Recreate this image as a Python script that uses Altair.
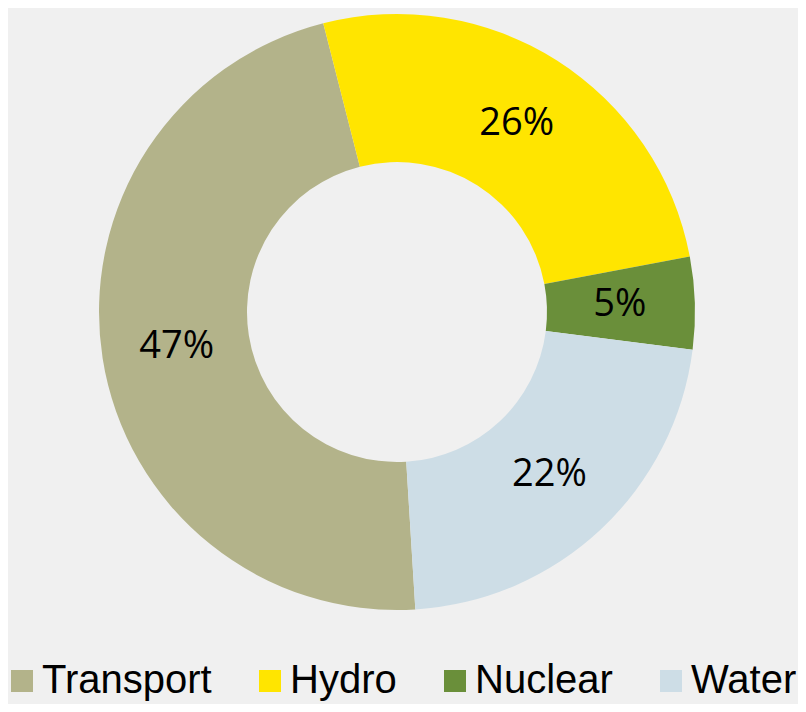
import altair as alt
import pandas as pd
import math

categories = ["Transport", "Hydro", "Nuclear", "Water"]
values = [47, 26, 5, 22]
labels = ["47%", "26%", "5%", "22%"]
colors = ["#b3b38a", "#ffe500", "#6a8f3a", "#cddde6"]

df = pd.DataFrame({"cat": categories, "val": values, "label": labels, "ord": list(range(len(categories)))})

start = 3.08
theta_scale = alt.Scale(range=[start, start + 2 * math.pi])

base = alt.Chart(df).encode(
    theta=alt.Theta("val:Q", stack=True, scale=theta_scale),
    order=alt.Order("ord:Q"),
)

arc = base.mark_arc(outerRadius=298, innerRadius=150, x=389, y=304).encode(
    color=alt.Color(
        "cat:N",
        scale=alt.Scale(domain=categories, range=colors),
        sort=categories,
        legend=alt.Legend(
            title=None,
            orient="none",
            direction="horizontal",
            columns=4,
            legendX=-6,
            legendY=653,
            symbolType="square",
            symbolSize=484,
            symbolStrokeWidth=0,
            symbolOpacity=1,
            labelFontSize=40,
            labelFont="Liberation Sans",
            labelColor="#000000",
            labelOffset=0,
            columnPadding=38,
            labelLimit=400,
        ),
    )
)

text = base.mark_text(radius=223, x=389, y=304, fontSize=38, font="Open Sans", color="#000000").encode(
    text="label:N"
)

chart = (
    alt.layer(arc, text)
    .properties(width=790, height=696, background="#f0f0f0", padding=0, autosize=alt.AutoSizeParams(type="none"))
    .configure_view(stroke=None)
)

chart.save("out.html", embed_options={"renderer": "svg", "actions": False})
